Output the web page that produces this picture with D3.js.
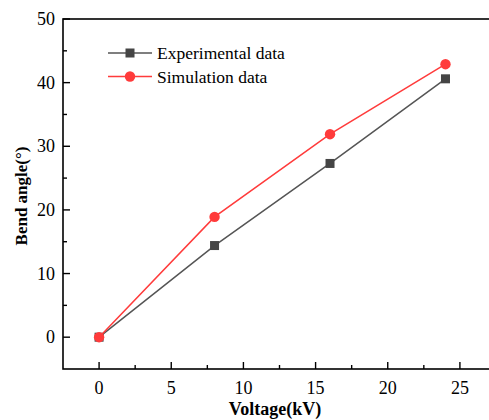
<!DOCTYPE html>
<html>
<head>
<meta charset="utf-8">
<script src="https://cdn.jsdelivr.net/npm/d3@7"></script>
<style>
  body { margin: 0; background: #fff; }
</style>
</head>
<body>
<div id="chart"></div>
<script>
// data
const voltage = [0, 8, 16, 24];
const experimental = [0, 14.4, 27.3, 40.6];
const simulation = [0, 18.9, 31.9, 42.9];
const xTicks = [0, 5, 10, 15, 20, 25];
const yTicks = [0, 10, 20, 30, 40, 50];

const W = 489, H = 420;
const margin = { left: 63, top: 19, right: -7, bottom: 51 };
const FONT = "'Liberation Serif'";

const svg = d3.select("#chart").append("svg")
  .attr("width", W).attr("height", H);

const x = d3.scaleLinear().domain([-2.5, 27.5])
  .range([margin.left, W - margin.right]);
const y = d3.scaleLinear().domain([-5, 50])
  .range([H - margin.bottom, margin.top]);

// axis frame (right edge falls outside the picture)
svg.append("rect")
  .attr("x", x(-2.5)).attr("y", y(50))
  .attr("width", x(27.5) - x(-2.5)).attr("height", y(-5) - y(50))
  .attr("fill", "none").attr("stroke", "#000").attr("stroke-width", 1.6);

//x ticks, inward
const xMinor = d3.range(-2.5, 27.6, 2.5).filter(v => v > -2.5 && v < 27.5);
svg.selectAll(".xt").data(xMinor).enter().append("line")
  .attr("x1", d => x(d)).attr("x2", d => x(d))
  .attr("y1", y(-5))
  .attr("y2", d => y(-5) - (xTicks.includes(d) ? 7 : 4))
  .attr("stroke", "#000").attr("stroke-width", 1.4);
svg.selectAll(".xl").data(xTicks).enter().append("text")
  .attr("x", d => x(d)).attr("y", y(-5) + 25)
  .attr("text-anchor", "middle").attr("font-size", 18)
  .style("font-family", FONT)
  .text(d => d);

//y ticks, inward
const yMinor = d3.range(0, 50.1, 5);
svg.selectAll(".yt").data(yMinor).enter().append("line")
  .attr("x1", x(-2.5))
  .attr("x2", d => x(-2.5) + (yTicks.includes(d) ? 7 : 4))
  .attr("y1", d => y(d)).attr("y2", d => y(d))
  .attr("stroke", "#000").attr("stroke-width", 1.4);
svg.selectAll(".yl").data(yTicks).enter().append("text")
  .attr("x", x(-2.5) - 8).attr("y", d => y(d) + 6)
  .attr("text-anchor", "end").attr("font-size", 18)
  .style("font-family", FONT)
  .text(d => d);

//axis titles
svg.append("text")
  .attr("x", 275).attr("y", 415)
  .attr("text-anchor", "middle").attr("font-size", 18).attr("font-weight", "bold")
  .style("font-family", FONT)
  .text("Voltage(kV)");
svg.append("text")
  .attr("transform", "translate(27,196) rotate(-90)")
  .attr("text-anchor", "middle").attr("font-size", 17).attr("font-weight", "bold")
  .style("font-family", FONT)
  .text("Bend angle(°)");

const line = d3.line().x(d => x(d[0])).y(d => y(d[1]));
const series = [
  { name: "Experimental data", values: experimental, color: "#555555", marker: "#454545", shape: "square" },
  { name: "Simulation data", values: simulation, color: "#ff3b3b", marker: "#ff3b3b", shape: "circle" },
];

series.forEach(s => {
  const pts = voltage.map((v, i) => [v, s.values[i]]);
  svg.append("path").datum(pts)
    .attr("d", line).attr("fill", "none")
    .attr("stroke", s.color).attr("stroke-width", 1.5);
  drawMarkers(pts.map(p => [x(p[0]), y(p[1])]), s);
});

function drawMarkers(coords, s) {
  coords.forEach(([cx, cy]) => {
    if (s.shape === "square") {
      svg.append("rect")
        .attr("x", cx - 4.5).attr("y", cy - 4.5)
        .attr("width", 9).attr("height", 9)
        .attr("fill", s.marker);
    } else {
      svg.append("circle")
        .attr("cx", cx).attr("cy", cy).attr("r", 5.2)
        .attr("fill", s.marker);
    }
  });
}

//legend
series.forEach((s, i) => {
  const ly = 53 + i * 23.5;
  svg.append("line")
    .attr("x1", 108).attr("x2", 152).attr("y1", ly).attr("y2", ly)
    .attr("stroke", s.color).attr("stroke-width", 1.5);
  drawMarkers([[130, ly]], s);
  svg.append("text")
    .attr("x", 157).attr("y", ly + 6)
    .attr("font-size", 17.5)
    .style("font-family", FONT)
    .text(s.name);
});
</script>
</body>
</html>
